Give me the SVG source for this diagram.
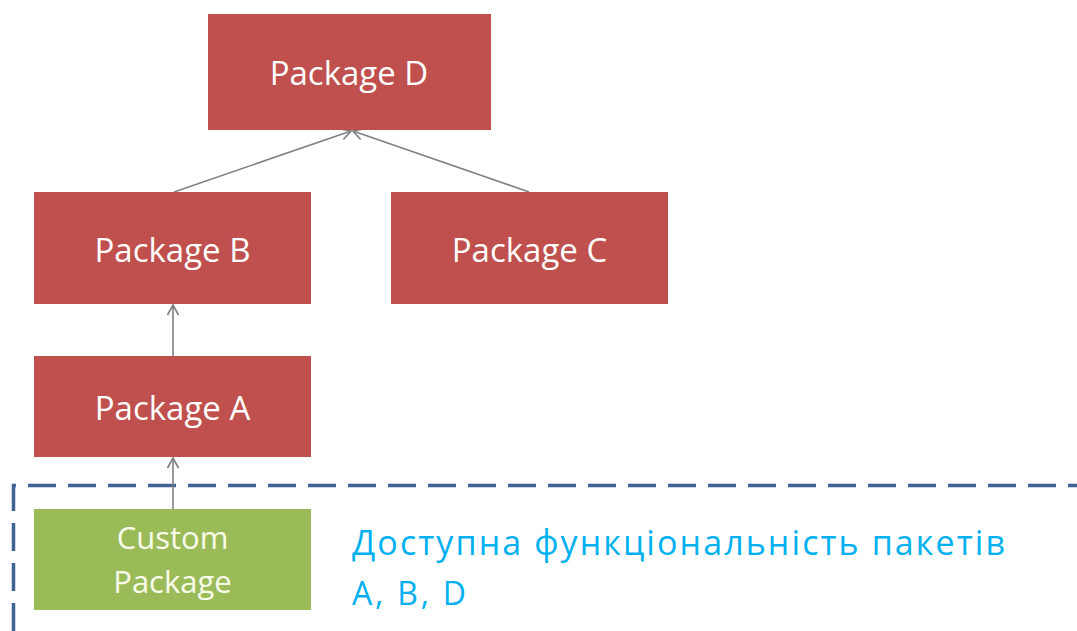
<svg xmlns="http://www.w3.org/2000/svg" width="1077" height="631" viewBox="0 0 1077 631">
<defs>
<marker id="arr" markerWidth="14" markerHeight="14" refX="12" refY="7" orient="auto" markerUnits="userSpaceOnUse">
<path d="M2,1.5 L12,7 L2,12.5" fill="none" stroke="#7f7f7f" stroke-width="1.6"/>
</marker>
<style>
.pk{fill:#C0504D}
.cu{fill:#9BBB59}
.t{font-family:"Open Sans","Noto Sans",sans-serif;font-size:33px;fill:#ffffff;text-anchor:middle}
.t2{font-family:"Open Sans","Noto Sans",sans-serif;font-size:31px;fill:#F8FBEA;text-anchor:middle}
.c{stroke:#808080;stroke-width:1.6;fill:none;marker-end:url(#arr)}
.bl{font-family:"Open Sans","Noto Sans",sans-serif;fill:#00B0F0}
</style>
</defs>
<rect width="1077" height="631" fill="#ffffff"/>
<g id="boundary">
<path d="M13.5,631 L13.5,485.5 L1077,485.5" fill="none" stroke="#3F6494" stroke-width="3.5" stroke-dasharray="28,12"/>
</g>
<g id="connectors">
<line class="c" x1="174" y1="192" x2="351" y2="131"/>
<line class="c" x1="529" y1="192" x2="353" y2="131"/>
<line class="c" x1="173" y1="356" x2="173" y2="305"/>
<line class="c" x1="173" y1="509" x2="173" y2="458"/>
</g>
<g id="packageD">
<rect class="pk" x="208" y="14" width="283" height="116"/>
<text class="t" x="349" y="85">Package D</text>
</g>
<g id="packageB">
<rect class="pk" x="34" y="192" width="277" height="112"/>
<text class="t" x="172.5" y="262">Package B</text>
</g>
<g id="packageC">
<rect class="pk" x="391" y="192" width="277" height="112"/>
<text class="t" x="529.5" y="262">Package C</text>
</g>
<g id="packageA">
<rect class="pk" x="34" y="356" width="277" height="101"/>
<text class="t" x="172.5" y="420">Package A</text>
</g>
<g id="customPackage">
<rect class="cu" x="34" y="509" width="277" height="101"/>
<text class="t2" x="172.5" y="549">Custom</text>
<text class="t2" x="172.5" y="593">Package</text>
</g>
<g id="note">
<text class="bl" x="352" y="555" font-size="34" textLength="653" lengthAdjust="spacing">Доступна функціональність пакетів</text>
<text class="bl" x="352" y="605" font-size="32" textLength="114" lengthAdjust="spacing">A, B, D</text>
</g>
</svg>
